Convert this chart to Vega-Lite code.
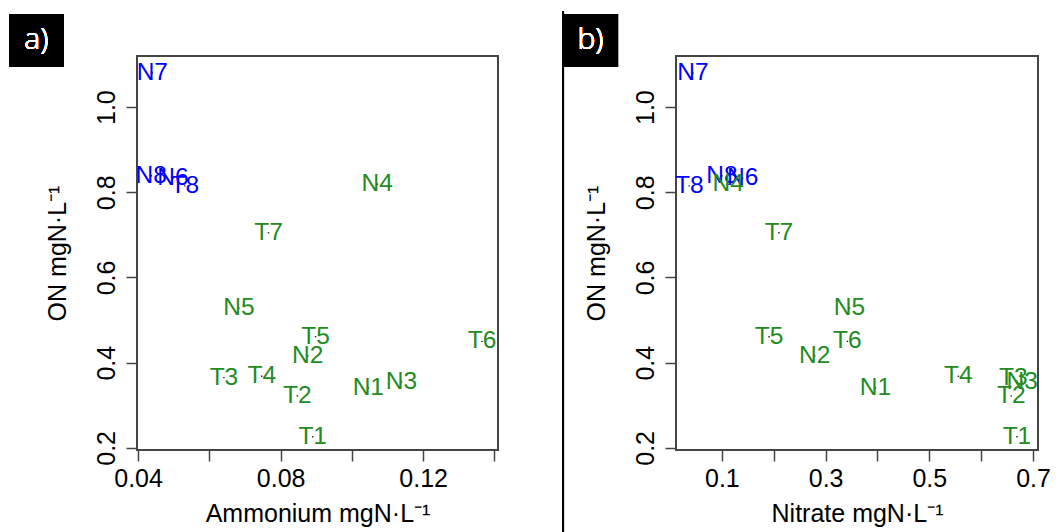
{
  "$schema": "https://vega.github.io/schema/vega-lite/v6.json",
  "padding": {"left": 8, "top": 8, "right": 10, "bottom": 0},
  "bounds": "flush",
  "spacing": 178,
  "background": "white",
  "data": {
    "values": [
      {"label": "N7", "ammonium": 0.0440, "nitrate": 0.044, "on": 1.080, "cluster": "A"},
      {"label": "N8", "ammonium": 0.0437, "nitrate": 0.100, "on": 0.839, "cluster": "A"},
      {"label": "N6", "ammonium": 0.0498, "nitrate": 0.140, "on": 0.833, "cluster": "A"},
      {"label": "T8", "ammonium": 0.0531, "nitrate": 0.037, "on": 0.815, "cluster": "A"},
      {"label": "N4", "ammonium": 0.1071, "nitrate": 0.112, "on": 0.819, "cluster": "B"},
      {"label": "T7", "ammonium": 0.0766, "nitrate": 0.210, "on": 0.705, "cluster": "B"},
      {"label": "N5", "ammonium": 0.0683, "nitrate": 0.346, "on": 0.528, "cluster": "B"},
      {"label": "T5", "ammonium": 0.0898, "nitrate": 0.191, "on": 0.461, "cluster": "B"},
      {"label": "N2", "ammonium": 0.0876, "nitrate": 0.279, "on": 0.416, "cluster": "B"},
      {"label": "T6", "ammonium": 0.1365, "nitrate": 0.342, "on": 0.450, "cluster": "B"},
      {"label": "T3", "ammonium": 0.0641, "nitrate": 0.662, "on": 0.365, "cluster": "B"},
      {"label": "T4", "ammonium": 0.0747, "nitrate": 0.556, "on": 0.368, "cluster": "B"},
      {"label": "T2", "ammonium": 0.0847, "nitrate": 0.658, "on": 0.322, "cluster": "B"},
      {"label": "T1", "ammonium": 0.0890, "nitrate": 0.669, "on": 0.226, "cluster": "B"},
      {"label": "N1", "ammonium": 0.1046, "nitrate": 0.396, "on": 0.341, "cluster": "B"},
      {"label": "N3", "ammonium": 0.1139, "nitrate": 0.679, "on": 0.355, "cluster": "B"}
    ]
  },
  "hconcat": [
    {
      "width": 361,
      "height": 394,
      "encoding": {
        "x": {"field": "ammonium", "type": "quantitative",
          "scale": {"domain": [0.0397, 0.141], "nice": false, "zero": false},
          "axis": {"title": "Ammonium mgN·L⁻¹", "values": [0.04, 0.06, 0.08, 0.10, 0.12, 0.14],
            "labelExpr": "round(datum.value*100) % 4 == 0 ? format(datum.value, '.2f') : ''",
            "labelPadding": 5, "titlePadding": 10}},
        "y": {"field": "on", "type": "quantitative",
          "scale": {"domain": [0.195, 1.12], "nice": false, "zero": false},
          "axis": {"title": "ON mgN·L⁻¹", "values": [0.2, 0.4, 0.6, 0.8, 1.0], "format": ".1f",
            "labelAngle": 270, "labelAlign": "center", "labelBaseline": "alphabetic",
            "labelPadding": 12, "titlePadding": 24}}
      },
      "layer": [
        {"mark": {"type": "point", "shape": "square", "filled": true, "size": 2, "color": "#222", "opacity": 1}},
        {"mark": {"type": "text", "font": "Liberation Sans", "fontSize": 24.5, "align": "center", "baseline": "middle"},
          "encoding": {"text": {"field": "label"},
            "color": {"field": "cluster", "type": "nominal", "scale": {"domain": ["A", "B"], "range": ["#0000FF", "#228B22"]}, "legend": null}}},
        {"mark": {"type": "rect", "color": "black", "clip": false},
          "encoding": {"x": {"datum": 0.0039, "type": "quantitative"}, "x2": {"datum": 0.0190},
            "y": {"datum": 1.2186, "type": "quantitative"}, "y2": {"datum": 1.094}}},
        {"mark": {"type": "text", "text": "a)", "color": "white", "font": "Open Sans", "fontWeight": 300, "fontSize": 30, "align": "center", "baseline": "middle"},
          "encoding": {"x": {"datum": 0.01145, "type": "quantitative"}, "y": {"datum": 1.1564, "type": "quantitative"}}}
      ]
    },
    {
      "width": 362,
      "height": 394,
      "encoding": {
        "x": {"field": "nitrate", "type": "quantitative",
          "scale": {"domain": [0.0115, 0.7096], "nice": false, "zero": false},
          "axis": {"title": "Nitrate mgN·L⁻¹", "values": [0.1, 0.2, 0.3, 0.4, 0.5, 0.6, 0.7],
            "labelExpr": "round(datum.value*10) % 2 == 1 ? format(datum.value, '.1f') : ''",
            "labelPadding": 5, "titlePadding": 10}},
        "y": {"field": "on", "type": "quantitative",
          "scale": {"domain": [0.195, 1.12], "nice": false, "zero": false},
          "axis": {"title": "ON mgN·L⁻¹", "values": [0.2, 0.4, 0.6, 0.8, 1.0], "format": ".1f",
            "labelAngle": 270, "labelAlign": "center", "labelBaseline": "alphabetic",
            "labelPadding": 12, "titlePadding": 24}}
      },
      "layer": [
        {"mark": {"type": "point", "shape": "square", "filled": true, "size": 2, "color": "#222", "opacity": 1}},
        {"mark": {"type": "text", "font": "Liberation Sans", "fontSize": 24.5, "align": "center", "baseline": "middle"},
          "encoding": {"text": {"field": "label"},
            "color": {"field": "cluster", "type": "nominal", "scale": {"domain": ["A", "B"], "range": ["#0000FF", "#228B22"]}, "legend": null}}},
        {"mark": {"type": "rule", "color": "black", "strokeWidth": 2, "clip": false},
          "encoding": {"x": {"datum": -0.2064, "type": "quantitative"},
            "y": {"datum": 1.2257, "type": "quantitative"}, "y2": {"datum": 0.0}}},
        {"mark": {"type": "rect", "color": "black", "clip": false},
          "encoding": {"x": {"datum": -0.2064, "type": "quantitative"}, "x2": {"datum": -0.1003},
            "y": {"datum": 1.2186, "type": "quantitative"}, "y2": {"datum": 1.094}}},
        {"mark": {"type": "text", "text": "b)", "color": "white", "font": "Open Sans", "fontWeight": 300, "fontSize": 30, "align": "center", "baseline": "middle"},
          "encoding": {"x": {"datum": -0.1534, "type": "quantitative"}, "y": {"datum": 1.1564, "type": "quantitative"}}}
      ]
    }
  ],
  "resolve": {"scale": {"color": "shared"}},
  "config": {
    "view": {"stroke": "#444", "strokeWidth": 2},
    "axis": {
      "labelFont": "Liberation Sans", "labelFontSize": 25, "labelColor": "black",
      "titleFont": "Liberation Sans", "titleFontSize": 25, "titleFontWeight": "normal", "titleColor": "black",
      "domain": false, "grid": false, "tickColor": "#444", "tickWidth": 1.5, "tickSize": 11
    }
  }
}
